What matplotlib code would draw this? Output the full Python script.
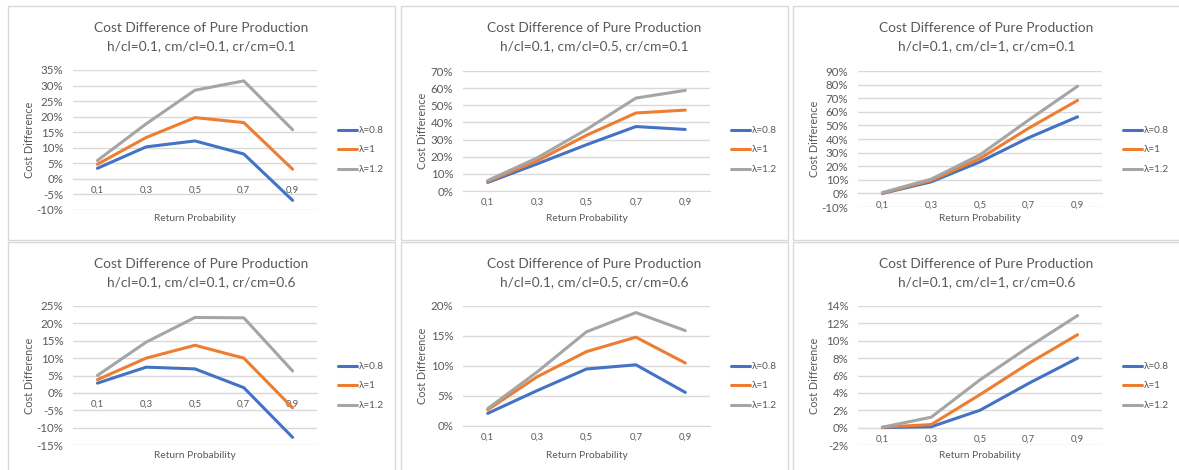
import matplotlib
matplotlib.use("Agg")
import matplotlib.pyplot as plt
from matplotlib.patches import Rectangle
from matplotlib.ticker import FuncFormatter, MultipleLocator

plt.rcParams['font.family'] = ['Lato', 'DejaVu Sans']

# data (percent)
return_prob = ["0,1", "0,3", "0,5", "0,7", "0,9"]
lambdas = ["λ=0.8", "λ=1", "λ=1.2"]
colors = ["#4472C4", "#ED7D31", "#A5A5A5"]

subtitles = [
    "h/cl=0.1, cm/cl=0.1, cr/cm=0.1",
    "h/cl=0.1, cm/cl=0.5, cr/cm=0.1",
    "h/cl=0.1, cm/cl=1, cr/cm=0.1",
    "h/cl=0.1, cm/cl=0.1, cr/cm=0.6",
    "h/cl=0.1, cm/cl=0.5, cr/cm=0.6",
    "h/cl=0.1, cm/cl=1, cr/cm=0.6",
]

diff_cm01_cr01 = [[3.4, 10.3, 12.2, 8.0, -6.9],
                  [4.7, 13.3, 19.7, 18.1, 3.1],
                  [5.9, 17.7, 28.5, 31.5, 15.8]]
diff_cm05_cr01 = [[5.0, 15.8, 27.0, 37.6, 35.9],
                  [5.6, 17.6, 32.5, 45.5, 47.2],
                  [6.1, 19.3, 35.9, 54.2, 58.7]]
diff_cm1_cr01 = [[0.0, 8.5, 23.2, 41.0, 56.3],
                 [0.2, 9.5, 25.7, 48.0, 68.4],
                 [0.6, 10.5, 28.4, 54.0, 78.8]]
diff_cm01_cr06 = [[2.8, 7.4, 6.9, 1.5, -12.8],
                  [3.8, 10.0, 13.7, 10.0, -4.3],
                  [5.0, 14.6, 21.7, 21.6, 6.3]]
diff_cm05_cr06 = [[2.1, 5.9, 9.5, 10.2, 5.6],
                  [2.7, 8.2, 12.4, 14.8, 10.5],
                  [2.9, 9.0, 15.7, 18.9, 15.9]]
diff_cm1_cr06 = [[0.0, 0.1, 2.0, 5.1, 8.0],
                 [0.05, 0.35, 3.8, 7.4, 10.7],
                 [0.05, 1.2, 5.5, 9.3, 12.9]]

panels = [diff_cm01_cr01, diff_cm05_cr01, diff_cm1_cr01,
          diff_cm01_cr06, diff_cm05_cr06, diff_cm1_cr06]
y_ranges = [(-10, 35, 5), (0, 70, 10), (-10, 90, 10),
            (-15, 25, 5), (0, 20, 5), (-2, 14, 2)]

W, H = 1179, 470
TEXT = "#595959"
GRID = "#D9D9D9"

fig = plt.figure(figsize=(W / 100, H / 100), dpi=100)
fig.patch.set_facecolor("white")

# panel frames in pixels: left, top
col_x = [8, 401, 793]
row_y = [6, 242]
panel_w, panel_h = 387, 234
plot_x = [(73, 317), (463, 710), (858, 1102)]
# plot area top/bottom per panel (pixels); axes that start at 0% leave room below
plot_y = [(70, 210), (71, 191), (71, 207),
          (306, 445), (306, 426), (306, 445)]


def fx(px):
    return px / W


def fy(py):
    return 1 - py / H


for k, data in enumerate(panels):
    r, c = divmod(k, 3)
    x0, y0 = col_x[c], row_y[r]
    fig.patches.append(Rectangle((fx(x0), fy(y0 + panel_h)), panel_w / W, panel_h / H,
                                 transform=fig.transFigure, fill=False,
                                 ec=GRID, lw=1.0, zorder=0))

    px0, px1 = plot_x[c]
    py0, py1 = plot_y[k]
    ax = fig.add_axes([fx(px0), fy(py1), (px1 - px0) / W, (py1 - py0) / H])

    x = range(len(return_prob))
    lines = []
    for vals, lab, col in zip(data, lambdas, colors):
        ln, = ax.plot(x, vals, color=col, lw=2.2, label=lab, solid_joinstyle="round",
                      solid_capstyle="round", zorder=3)
        lines.append(ln)

    lo, hi, step = y_ranges[k]
    ax.set_ylim(lo, hi)
    ax.set_xlim(-0.5, len(return_prob) - 0.5)
    ax.yaxis.set_major_locator(MultipleLocator(step))
    ax.yaxis.set_major_formatter(FuncFormatter(lambda v, p: f"{v:.0f}%"))
    ax.grid(axis="y", color=GRID, lw=1.0, zorder=0)
    ax.set_axisbelow(True)
    for s in ["top", "right", "left"]:
        ax.spines[s].set_visible(False)
    ax.spines["bottom"].set_position(("data", 0))
    ax.spines["bottom"].set_color(GRID)
    ax.set_xticks(list(x))
    ax.set_xticklabels(return_prob)
    ax.tick_params(axis="x", length=0, pad=5, labelsize=6.8, labelcolor=TEXT)
    ax.tick_params(axis="y", length=0, pad=7, labelsize=8.3, labelcolor=TEXT)

    # titles and axis titles
    cx = x0 + panel_w / 2
    fig.text(fx(cx), fy(y0 + 22), "Cost Difference of Pure Production",
             ha="center", va="center", fontsize=9.9, color=TEXT)
    fig.text(fx(cx), fy(y0 + 40), subtitles[k],
             ha="center", va="center", fontsize=9.9, color=TEXT)
    fig.text(fx((px0 + px1) / 2), fy(y0 + 213), "Return Probability",
             ha="center", va="center", fontsize=7.4, color=TEXT)
    fig.text(fx(x0 + 22), fy((py0 + py1) / 2), "Cost Difference", rotation=90,
             ha="center", va="center", fontsize=7.8, color=TEXT)

    ax.legend(handles=lines, loc="upper left",
              bbox_to_anchor=((x0 + 326 - px0) / (px1 - px0), (py1 - (y0 + 116)) / (py1 - py0)),
              frameon=False, fontsize=7.2, labelcolor=TEXT, handlelength=1.9,
              handletextpad=0.15, labelspacing=1.05, borderaxespad=0)

fig.savefig("out.png", dpi=100)
